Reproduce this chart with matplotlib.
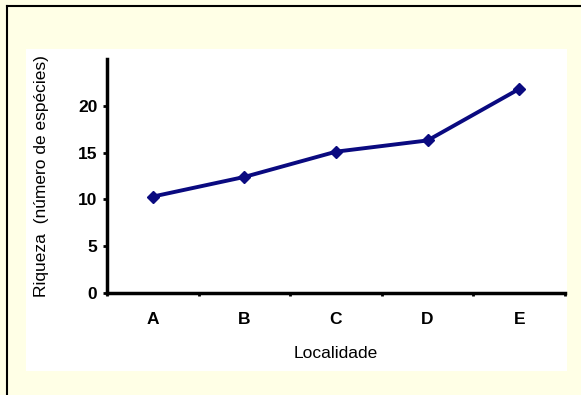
import matplotlib
matplotlib.use("Agg")
import matplotlib.pyplot as plt
from matplotlib.patches import Rectangle
from matplotlib.lines import Line2D

localidades = ["A", "B", "C", "D", "E"]
riqueza = [10.3, 12.4, 15.1, 16.3, 21.8]
yticks = [0, 5, 10, 15, 20]

plt.rcParams['font.family'] = ['Liberation Sans', 'DejaVu Sans']

fig = plt.figure(figsize=(5.81, 3.95), dpi=100)
fig.patch.set_facecolor('#FFFFE6')

# white panel
fig.patches.append(Rectangle((26/581, 1-371/395), 541/581, 322/395,
                             transform=fig.transFigure, facecolor='white',
                             edgecolor='none', zorder=-10))
# black border (left and top)
fig.lines.append(Line2D([7/581, 7/581], [0, 1-6/395], transform=fig.transFigure,
                        color='black', lw=1.5, zorder=-5))
fig.lines.append(Line2D([7/581, 1], [1-6/395, 1-6/395], transform=fig.transFigure,
                        color='black', lw=1.5, zorder=-5))

ax = fig.add_axes([107/581, 1-293/395, 458/581, 234/395])
ax.set_zorder(5)
ax.set_facecolor('none')
x = list(range(len(localidades)))
ax.plot(x, riqueza, color='#0A0A80', lw=2.8, marker='D', markersize=6,
        markeredgecolor='#0A0A80', markerfacecolor='#0A0A80', clip_on=False)

ax.set_xlim(-0.5, 4.5)
ax.set_ylim(0, 25)
ax.set_yticks(yticks)
ax.set_yticklabels([str(v) for v in yticks], fontsize=12.5, fontweight='bold')
ax.set_xticks(x)
ax.set_xticklabels(localidades, fontsize=12.5, fontweight='bold')
ax.tick_params(axis='x', which='major', length=0, pad=14)
ax.set_xticks([i - 0.5 for i in range(len(localidades) + 1)], minor=True)
ax.tick_params(axis='x', which='minor', length=2.5, width=2, direction='out')
ax.tick_params(axis='y', length=3, width=2, direction='out', pad=4)

for s in ['top', 'right']:
    ax.spines[s].set_visible(False)
for s in ['left', 'bottom']:
    ax.spines[s].set_linewidth(2.5)

ax.set_xlabel('Localidade', fontsize=12.5, labelpad=13)
ax.set_ylabel('Riqueza  (número de espécies)', fontsize=12.5, labelpad=21)

fig.savefig('out.png', dpi=100, facecolor=fig.get_facecolor())
